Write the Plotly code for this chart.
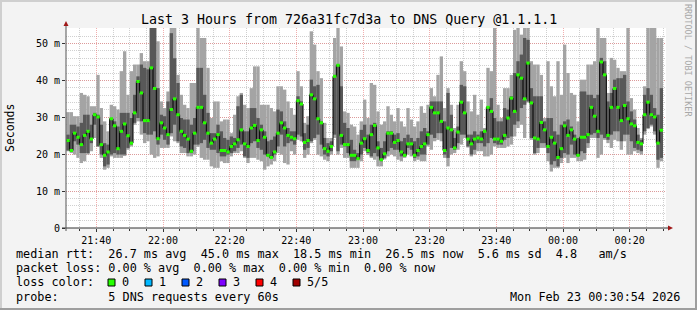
import plotly.graph_objects as go
import pandas as pd

# ---- data (ms), one value per 1-minute step ----
hi = [31.4,31.4,30.3,30.3,36.6,36.1,35.7,33.0,33.0,41.5,
      32.5,28.9,26.2,33.4,33.0,32.1,42.5,47.9,36.1,42.5,
      44.3,44.3,47.4,45.2,45.2,56,56,50.6,34.3,32.5,
      37.0,56,56,41.5,36.1,33.4,32.5,39.3,39.3,56,
      51.5,51.5,43.4,29.8,34.3,34.3,28.9,29.4,29.4,25.7,
      30.7,35.7,36.6,33.4,32.5,37.9,43.8,43.8,33.4,33.4,
      33.4,32.5,31.6,38.4,38.4,37.5,34.3,32.5,30.7,42.5,
      38.4,28.5,30.3,53.3,49.7,42.5,40.6,28.5,24.4,24.4,
      51.5,56,49.2,31.6,31.2,28.0,27.5,25.3,28.9,34.8,
      29.8,39.3,38.8,31.6,28.0,28.9,33.0,30.7,28.9,32.5,
      28.9,27.5,32.5,29.4,27.5,28.9,33.0,31.2,33.4,37.9,
      35.7,41.5,46.5,32.5,37.9,33.4,27.1,33.4,45.2,42.5,
      34.3,31.6,36.1,30.7,34.8,27.1,43.4,42.5,56,33.4,
      29.8,37.9,37.9,41.5,53.7,56,52.4,56,56,45.2,
      44.3,44.3,41.5,29.8,45.2,38.4,35.7,45.2,36.1,49.7,
      42.0,36.6,36.1,28.9,40.2,40.2,44.3,44.3,45.2,56,
      51.5,51.5,36.6,46.1,45.6,43.4,42.5,42.5,56,35.2,
      32.1,27.1,24.4,38.4,56,56,56,51.5,51.5]

q3 = [25.3,28.0,28.0,27.5,28.5,30.7,30.7,28.0,31.2,30.7,
      28.0,23.0,22.6,29.8,28.9,27.5,31.2,31.2,31.2,29.8,
      36.1,41.1,44.3,43.4,43.0,56,56,37.9,30.7,30.3,
      34.3,52.8,46.0,39.3,29.8,29.4,29.4,28.0,29.8,43.4,
      43.4,36.1,31.2,25.7,25.7,28.0,26.2,24.4,23.9,24.8,
      24.4,33.0,36.1,26.2,26.2,32.5,32.5,29.8,28.0,26.2,
      23.5,23.9,24.8,32.1,31.6,28.9,27.1,26.2,26.2,35.7,
      34.3,25.7,28.0,40.2,38.4,38.8,28.9,24.4,23.0,23.5,
      41.5,44.3,38.4,28.5,27.1,23.9,21.2,20.3,26.6,28.0,
      25.3,28.0,28.5,23.5,21.7,23.5,26.2,26.2,25.3,25.7,
      23.5,24.4,25.3,24.4,23.5,24.4,26.2,27.1,26.2,34.3,
      34.3,34.3,34.3,28.9,36.6,30.7,24.4,27.5,38.8,38.4,
      25.3,25.3,26.2,25.3,26.2,26.6,33.0,35.2,29.8,28.9,
      28.9,32.5,32.1,35.7,42.0,45.2,47.0,51.5,51.0,37.9,
      35.7,35.7,35.7,28.9,29.8,29.8,26.2,25.3,28.0,28.9,
      29.4,27.5,25.3,24.4,37.0,37.0,36.1,36.1,35.2,36.1,
      46.1,45.2,34.3,36.6,40.2,40.6,40.6,41.5,34.3,31.6,
      29.4,25.3,23.9,36.1,37.9,36.1,32.5,30.7,37.9]

med = [23.7,21.0,25.7,24.6,22.6,25.1,26.2,24.1,30.7,30.1,
       22.6,19.7,20.6,29.6,27.7,21.5,26.2,28.2,25.0,23.0,
       31.2,39.7,36.6,29.1,29.1,43.4,37.8,24.2,28.5,27.1,
       25.3,32.1,35.0,30.7,26.2,25.1,24.1,20.8,25.7,32.7,
       32.7,28.5,25.7,23.0,24.1,25.3,21.0,21.0,20.6,22.1,
       22.8,23.9,26.6,22.8,22.1,27.1,27.8,23.7,26.6,24.6,
       19.7,19.1,20.6,25.7,28.5,27.1,25.1,24.6,24.2,34.5,
       33.6,23.2,23.7,36.1,35.0,29.6,28.5,21.5,20.8,22.1,
       41.1,44.1,25.1,22.6,22.6,19.7,19.7,18.8,23.0,24.2,
       21.0,25.3,27.8,21.7,18.5,20.1,25.7,25.7,23.2,23.7,
       20.6,19.7,22.8,22.8,19.7,21.0,22.1,22.8,25.3,32.7,
       31.2,31.2,28.9,21.0,27.1,26.6,21.7,26.0,34.1,31.2,
       24.1,22.8,24.1,24.4,24.1,26.2,32.7,31.6,24.1,24.1,
       23.5,25.1,29.8,35.2,31.6,41.5,40.6,35.0,44.7,33.9,
       24.4,24.1,28.6,26.6,22.1,24.6,23.0,19.1,21.5,27.7,
       25.1,26.6,24.1,19.7,24.6,24.6,25.3,32.7,30.3,26.2,
       45.0,41.5,25.1,32.7,37.8,32.7,29.1,33.2,29.6,28.2,
       27.7,23.2,22.8,30.7,34.1,30.7,30.1,23.0,26.5]

q1 = [21.0,20.8,23.5,22.6,20.3,20.3,20.3,23.0,28.0,22.1,
      19.9,16.7,17.2,19.9,20.3,19.9,19.9,19.9,21.7,22.6,
      28.5,29.8,28.9,25.7,25.3,25.3,26.2,22.6,25.3,23.9,
      22.6,25.7,28.0,23.5,22.1,21.7,20.3,20.3,22.6,22.6,
      23.0,23.9,21.7,21.2,21.2,20.3,19.4,19.4,19.9,20.3,
      20.8,21.7,22.6,19.4,19.0,23.0,23.5,21.7,21.2,19.9,
      19.4,18.8,19.9,22.1,25.3,22.1,23.0,23.5,22.6,25.3,
      24.8,21.2,21.7,23.5,24.4,25.3,22.6,19.9,19.4,20.8,
      25.3,20.8,22.6,22.1,20.3,18.1,18.1,18.5,19.9,21.7,
      20.3,19.4,20.3,19.4,18.1,19.0,20.8,21.7,21.2,21.2,
      19.4,19.4,21.7,21.2,19.0,19.4,19.9,19.9,22.6,25.3,
      24.4,25.7,25.7,19.9,19.0,21.7,21.2,23.0,25.3,25.3,
      22.1,19.9,21.2,23.0,23.0,22.1,23.0,24.4,23.0,22.6,
      22.6,23.9,24.4,24.8,28.0,28.9,32.5,33.4,34.3,24.4,
      20.3,21.7,23.0,23.0,20.3,17.2,18.1,16.7,19.0,20.3,
      19.9,22.6,19.9,19.4,20.8,20.3,23.0,25.3,25.7,24.4,
      25.3,24.4,23.9,25.3,26.2,26.2,23.5,25.3,25.3,23.5,
      21.7,21.2,20.8,26.2,27.1,28.0,26.2,18.5,19.0]

lo = [20.8,20.3,19.9,19.0,17.6,18.1,19.9,20.8,24.4,22.1,
      19.0,15.8,16.3,19.4,19.0,19.0,19.0,19.5,21.2,22.1,
      28.0,28.9,25.3,23.0,23.5,19.9,19.0,19.4,21.7,21.7,
      21.7,24.8,23.5,23.0,20.3,20.3,19.4,19.4,19.9,22.0,
      19.0,18.5,18.5,16.7,16.3,16.3,18.1,17.6,17.6,19.4,
      20.3,20.3,20.8,19.0,17.6,19.0,19.0,18.5,18.1,15.8,
      16.7,17.2,18.1,20.3,19.9,17.6,17.2,20.8,19.9,23.9,
      23.5,19.0,19.9,23.0,23.9,19.9,19.4,18.5,18.1,19.9,
      24.4,19.9,21.7,19.0,19.0,16.3,16.3,16.3,18.1,20.8,
      19.8,19.0,18.5,16.7,16.7,18.6,19.4,19.9,19.4,18.5,
      18.1,19.0,19.9,19.4,18.1,18.5,18.1,18.1,22.1,21.2,
      23.5,23.9,23.5,19.0,16.7,19.9,20.3,21.2,22.6,24.4,
      21.8,19.4,19.9,20.8,20.8,19.4,19.4,19.9,22.1,21.7,
      21.7,21.7,22.1,22.6,24.8,27.1,28.0,24.4,34.0,23.9,
      19.9,20.3,21.7,21.7,18.1,15.3,16.3,16.3,17.6,19.0,
      17.6,19.0,19.0,18.1,18.1,18.5,21.7,24.4,24.4,19.0,
      19.9,23.9,23.0,21.7,23.9,23.5,21.2,23.5,19.9,19.9,
      20.8,20.3,19.9,25.3,26.8,27.5,25.3,16.3,18.1]

y_tick_vals = [0, 10, 20, 30, 40, 50]
y_tick_text = ["0", "10 m", "20 m", "30 m", "40 m", "50 m"]

title_text = "Last 3 Hours from 726a31fc7d3a to DNS Query @1.1.1.1"
legend_rows = [
    "median rtt:  26.7 ms avg  45.0 ms max  18.5 ms min  26.5 ms now  5.6 ms sd  4.8   am/s",
    "packet loss: 0.00 % avg  0.00 % max  0.00 % min  0.00 % now",
    "loss color:",
    "probe:       5 DNS requests every 60s",
]
loss_labels = ["0", "1", "2", "3", "4", "5/5"]
loss_colors = ["#26ff00", "#00b8ff", "#0059ff", "#7e00ff", "#ff0000", "#a00000"]
stamp_text = "Mon Feb 23 00:30:54 2026"

# ---- layout helpers ----
W, H = 697, 310
L, T, PW, PH = 66, 28, 600, 200


def xp(px):
    return (px - L) / PW


def yp(py):
    return (T + PH - py) / PH


FONT = "DejaVu Sans Mono"


def nb(s):
    return s.replace(" ", "\u00a0")


fmt = "%Y-%m-%d %H:%M:%S"
n = len(med)
starts = pd.date_range("2026-02-22 21:31:00", periods=n, freq="min")
ends = starts + pd.Timedelta(minutes=1)
centers = starts + pd.Timedelta(seconds=30)
xc = [t.strftime(fmt) for t in centers]
xs = [t.strftime(fmt) for t in starts] + [ends[-1].strftime(fmt)]
med_step = med + [med[-1]]

# green horizontal median segments (drawn above the black step line)
gx, gy = [], []
for s, e, m in zip(starts, ends, med):
    gx += [s.strftime(fmt), e.strftime(fmt), None]
    gy += [m, m, None]

fig = go.Figure()
fig.add_bar(x=xc, y=[h - l for h, l in zip(hi, lo)], base=lo, width=60000,
            marker=dict(color="#a4a4a4", line=dict(width=0)), hoverinfo="skip")
fig.add_bar(x=xc, y=[a - b for a, b in zip(q3, q1)], base=q1, width=60000,
            marker=dict(color="#585858", line=dict(width=0)), hoverinfo="skip")
fig.add_scatter(x=xs, y=med_step, mode="lines",
                line=dict(color="#000000", width=1, shape="hv"), hoverinfo="skip")
fig.add_scatter(x=gx, y=gy, mode="lines", connectgaps=False,
                line=dict(color=loss_colors[0], width=3), hoverinfo="skip")

grid_major = "rgba(230,110,110,0.55)"
grid_minor = "rgba(170,170,170,0.55)"

fig.update_layout(
    width=W, height=H,
    margin=dict(l=L, r=W - L - PW, t=T, b=H - T - PH, pad=0),
    paper_bgcolor="#f3f3f3", plot_bgcolor="#ffffff",
    barmode="overlay", showlegend=False,
    font=dict(family=FONT, size=10, color="#000000"),
    xaxis=dict(
        type="date",
        range=["2026-02-22 21:30:54", "2026-02-23 00:30:54"],
        tick0="2000-01-01", dtick=1200000, tickformat="%H:%M",
        showgrid=True, gridcolor=grid_major, griddash="1px,1px", gridwidth=1,
        ticks="outside", ticklen=3, tickcolor="#333333",
        showline=False, zeroline=False,
        tickfont=dict(family=FONT, size=10),
        minor=dict(tick0="2000-01-01", dtick=300000, showgrid=True,
                   gridcolor=grid_minor, griddash="1px,1px",
                   ticks="outside", ticklen=2, tickcolor="#333333"),
    ),
    yaxis=dict(
        range=[0, 54.2],
        tickmode="array", tickvals=y_tick_vals, ticktext=y_tick_text,
        showgrid=True, gridcolor=grid_major, griddash="1px,1px", gridwidth=1,
        ticks="outside", ticklen=3, tickcolor="#333333",
        showline=False, zeroline=False,
        tickfont=dict(family=FONT, size=10),
        minor=dict(tick0=0, dtick=2, showgrid=True,
                   gridcolor=grid_minor, griddash="1px,1px"),
    ),
)

shapes = []
# frame
shapes.append(dict(type="line", xref="paper", yref="paper", x0=xp(0), x1=xp(W), y0=yp(1), y1=yp(1),
                   line=dict(color="#cfcfcf", width=2)))
shapes.append(dict(type="line", xref="paper", yref="paper", x0=xp(1), x1=xp(1), y0=yp(0), y1=yp(H),
                   line=dict(color="#cfcfcf", width=2)))
shapes.append(dict(type="line", xref="paper", yref="paper", x0=xp(0), x1=xp(W), y0=yp(H - 1), y1=yp(H - 1),
                   line=dict(color="#9e9e9e", width=2)))
shapes.append(dict(type="line", xref="paper", yref="paper", x0=xp(W - 1), x1=xp(W - 1), y0=yp(0), y1=yp(H),
                   line=dict(color="#9e9e9e", width=2)))
# axes
shapes.append(dict(type="line", xref="paper", yref="paper", x0=xp(62), x1=xp(669), y0=yp(228), y1=yp(228),
                   line=dict(color="#333333", width=1)))
shapes.append(dict(type="line", xref="paper", yref="paper", x0=xp(66), x1=xp(66), y0=yp(231), y1=yp(25),
                   line=dict(color="#555555", width=1)))
shapes.append(dict(type="path", xref="paper", yref="paper",
                   path=f"M {xp(668)},{yp(225.5)} L {xp(668)},{yp(230.5)} L {xp(673)},{yp(228)} Z",
                   fillcolor="#a01818", line=dict(width=0)))
shapes.append(dict(type="path", xref="paper", yref="paper",
                   path=f"M {xp(63.5)},{yp(26)} L {xp(68.5)},{yp(26)} L {xp(66)},{yp(21)} Z",
                   fillcolor="#a01818", line=dict(width=0)))

annotations = []
annotations.append(dict(text=nb(title_text), x=xp(348.5), y=yp(19), xref="paper", yref="paper",
                        xanchor="center", yanchor="middle", showarrow=False,
                        font=dict(family=FONT, size=13.3, color="#000000")))
annotations.append(dict(text="Seconds", x=xp(10), y=yp(128), xref="paper", yref="paper",
                        xanchor="center", yanchor="middle", showarrow=False, textangle=-90,
                        font=dict(family=FONT, size=11.5, color="#000000")))
annotations.append(dict(text=nb("RRDTOOL / TOBI OETIKER"), x=xp(688), y=yp(60), xref="paper", yref="paper",
                        xanchor="center", yanchor="middle", showarrow=False, textangle=90,
                        font=dict(family=FONT, size=8.5, color="#a8a8a8")))
row_y = [254, 268.3, 282.3, 296.7]
for txt, ry in zip(legend_rows, row_y):
    annotations.append(dict(text=nb(txt), x=xp(14), y=yp(ry), xref="paper", yref="paper",
                            xanchor="left", yanchor="middle", showarrow=False,
                            font=dict(family=FONT, size=11.8, color="#000000")))
annotations.append(dict(text=nb(stamp_text), x=xp(682), y=yp(row_y[3]), xref="paper", yref="paper",
                        xanchor="right", yanchor="middle", showarrow=False,
                        font=dict(family=FONT, size=11.8, color="#000000")))
for i, (lab, col) in enumerate(zip(loss_labels, loss_colors)):
    bx = 108 + 37 * i
    shapes.append(dict(type="rect", xref="paper", yref="paper",
                       x0=xp(bx), x1=xp(bx + 7), y0=yp(279), y1=yp(286),
                       fillcolor=col, line=dict(color="#000000", width=1)))
    annotations.append(dict(text=nb(lab), x=xp(bx + 12), y=yp(row_y[2]), xref="paper", yref="paper",
                            xanchor="left", yanchor="middle", showarrow=False,
                            font=dict(family=FONT, size=11.8, color="#000000")))

fig.update_layout(shapes=shapes, annotations=annotations)
fig.write_html("out.html")
